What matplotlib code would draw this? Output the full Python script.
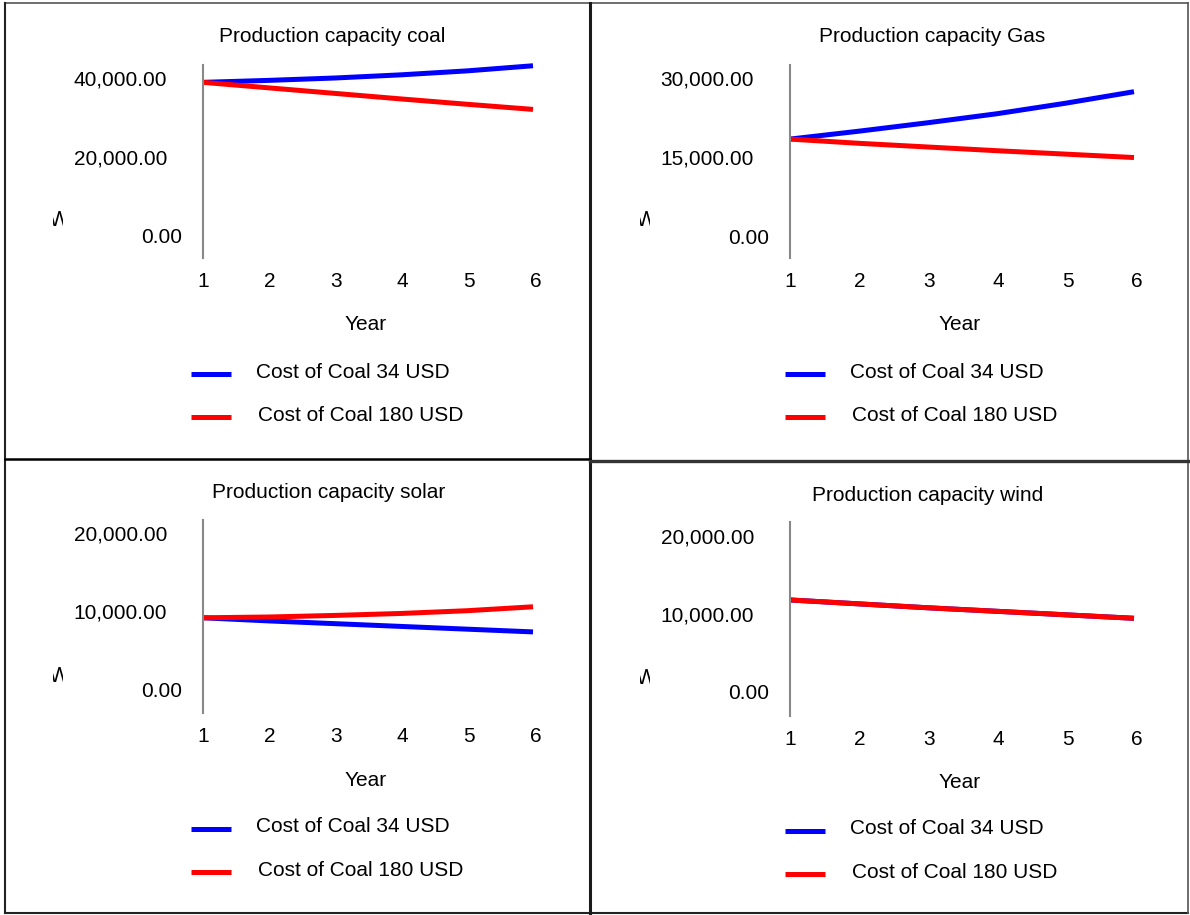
import matplotlib
matplotlib.use("Agg")
import matplotlib.pyplot as plt
from matplotlib.lines import Line2D
from matplotlib.transforms import Bbox, TransformedBbox, ScaledTranslation

plt.rcParams['font.family'] = ['Liberation Sans', 'DejaVu Sans']

# ---------------- data ----------------
years = [1, 2, 3, 4, 5, 6]
series_labels = ["Cost of Coal 34 USD", "Cost of Coal 180 USD"]
series_colors = ["#0000ff", "#ff0000"]

titles = ["Production capacity coal", "Production capacity Gas",
          "Production capacity solar", "Production capacity wind"]

coal_34 = [38900, 39400, 40000, 40800, 41800, 43100]
coal_180 = [38900, 37500, 36100, 34700, 33350, 32050]

gas_34 = [18400, 19900, 21500, 23200, 25200, 27400]
gas_180 = [18400, 17600, 16900, 16200, 15550, 14900]

solar_34 = [9200, 8800, 8450, 8100, 7750, 7400]
solar_180 = [9200, 9300, 9500, 9750, 10100, 10600]

wind_34 = [11800, 11300, 10800, 10350, 9900, 9450]
wind_180 = [11800, 11300, 10800, 10350, 9900, 9450]

yticks_coal = [0, 20000, 40000]
yticks_gas = [0, 15000, 30000]
yticks_solar = [0, 10000, 20000]
yticks_wind = [0, 10000, 20000]

x_label = "Year"
y_label = "W"

# ---------------- layout ----------------
W, H = 1190, 915
fig = plt.figure(figsize=(W / 100, H / 100), dpi=100)


def fx(px):
    return px / W


def fy(py):
    return 1 - py / H


FS = 15
DY = 2  # text baseline correction (px)

panels = [
    dict(d=(coal_34, coal_180), ticks=yticks_coal, ax=(203, 533, 65, 258), ylim=(-5570, 43290),
         title=(332, 35), year=(366, 322), leg_x=(191, 231, 256, 258), leg_y=(374, 417, 370, 413),
         wlab=(53, 63, 219)),
    dict(d=(gas_34, gas_180), ticks=yticks_gas, ax=(790, 1134, 65, 258), ylim=(-4177, 32468),
         title=(932, 35), year=(960, 322), leg_x=(785, 825, 850, 852), leg_y=(374, 417, 370, 413),
         wlab=(640, 650, 219)),
    dict(d=(solar_34, solar_180), ticks=yticks_solar, ax=(203, 533, 520, 713), ylim=(-2930, 21656),
         title=(329, 491), year=(366, 778), leg_x=(191, 231, 256, 258), leg_y=(829, 872, 825, 869),
         wlab=(53, 63, 675)),
    dict(d=(wind_34, wind_180), ticks=yticks_wind, ax=(790, 1134, 522, 716), ylim=(-3077, 21795),
         title=(928, 493), year=(960, 780), leg_x=(785, 825, 850, 852), leg_y=(831, 874, 827, 871),
         wlab=(640, 650, 677)),
]

for i, p in enumerate(panels):
    x0, x1, y0, y1 = p["ax"]
    ax = fig.add_axes([fx(x0), fy(y1), (x1 - x0) / W, (y1 - y0) / H])
    for vals, col in zip(p["d"], series_colors):
        ax.plot(years, vals, color=col, lw=3.6, solid_capstyle='butt', clip_on=False)
    ax.set_xlim(1, 6)
    ax.set_ylim(*p["ylim"])
    ax.set_xticks(years)
    ax.set_xticklabels([str(y) for y in years])
    ax.set_yticks(p["ticks"])
    ax.set_yticklabels([f"{t:,.2f}" for t in p["ticks"]])
    ax.tick_params(axis='both', length=0, labelsize=FS)
    ax.tick_params(axis='x', pad=10)
    ax.tick_params(axis='y', pad=26)
    # the "0.00" label sits closer to the axis in the reference
    lbl0 = ax.get_yticklabels()[0]
    lbl0.set_transform(lbl0.get_transform() + ScaledTranslation(15 / 100, 0, fig.dpi_scale_trans))
    # x tick labels drift slightly right in the reference
    for k, lbl in enumerate(ax.get_xticklabels()):
        lbl.set_transform(lbl.get_transform() + ScaledTranslation(0.6 * k / 100, 0, fig.dpi_scale_trans))
    for s in ['top', 'right', 'bottom']:
        ax.spines[s].set_visible(False)
    ax.spines['left'].set_color('#888888')
    ax.spines['left'].set_linewidth(1.5)
    ax.patch.set_alpha(0)

    fig.text(fx(p["title"][0]), fy(p["title"][1] + DY), titles[i], ha='center', va='center', fontsize=FS)
    fig.text(fx(p["year"][0]), fy(p["year"][1] + DY), x_label, ha='center', va='center', fontsize=FS)

    lx0, lx1, tx0, tx1 = p["leg_x"]
    ly0, ly1, ty0, ty1 = p["leg_y"]
    for (ly, tx, ty, lab, col) in [(ly0, tx0, ty0, series_labels[0], series_colors[0]),
                                   (ly1, tx1, ty1, series_labels[1], series_colors[1])]:
        fig.add_artist(Line2D([fx(lx0), fx(lx1)], [fy(ly), fy(ly)], color=col, lw=3.6,
                              transform=fig.transFigure, solid_capstyle='butt'))
        fig.text(fx(tx), fy(ty + DY), lab, ha='left', va='center', fontsize=FS)

    # clipped y-axis label fragment
    wx0, wx1, wy = p["wlab"]
    t = fig.text(fx(wx0 - 4), fy(wy + DY), y_label, ha='left', va='center', fontsize=16)
    t.set_clip_box(TransformedBbox(Bbox([[fx(wx0), fy(wy + 14)], [fx(wx1), fy(wy - 14)]]),
                                   fig.transFigure))
    t.set_clip_on(True)

# ---------------- panel borders ----------------
def hline(y, xa, xb, lw=2.0, color='black'):
    fig.add_artist(Line2D([fx(xa), fx(xb)], [fy(y), fy(y)], color=color, lw=lw,
                          transform=fig.transFigure))


def vline(x, ya, yb, lw=2.0, color='black'):
    fig.add_artist(Line2D([fx(x), fx(x)], [fy(ya), fy(yb)], color=color, lw=lw,
                          transform=fig.transFigure))


hline(3, 5, 1188, lw=1.2, color='#555555')
hline(913, 5, 1188, lw=1.5, color='#222222')
vline(5, 3, 913, lw=1.5, color='#222222')
vline(1188, 3, 913, lw=1.2, color='#555555')
vline(590, 3, 913, lw=2.2, color='#1a1a1a')
hline(459, 5, 590, lw=1.8, color='black')
hline(461, 590, 1188, lw=2.4, color='#333333')

fig.savefig("out.png", dpi=100)
